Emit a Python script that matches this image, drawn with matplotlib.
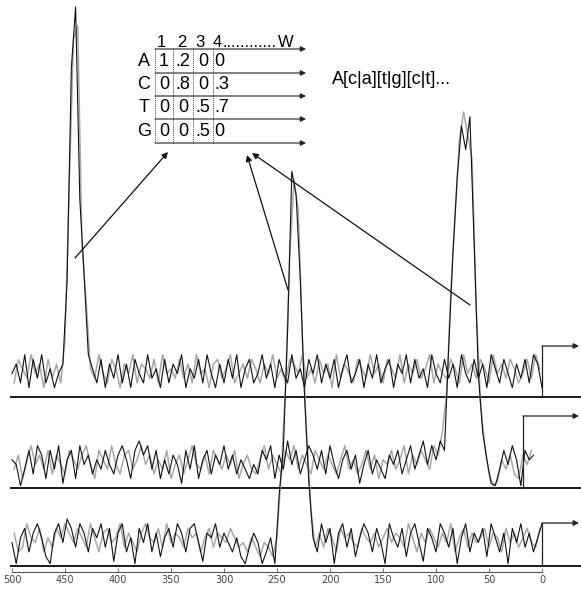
import numpy as np
import matplotlib
matplotlib.use('Agg')
import matplotlib.pyplot as plt

# ---------------- data ----------------
positions = np.arange(500, -1, -4)     # black traces, tracks 1 and 3
positions2 = np.arange(500, 7, -4)     # black trace, track 2
positions_b = np.arange(498, 1, -4)    # grey traces, tracks 1 and 3
positions2_b = np.arange(498, 7, -4)   # grey trace, track 2

track1 = [5, 7, 3, 9, 2, 8, 4, 9, 3, 6, 2, 5,
          7, 25, 70, 83, 42, 26, 9,
          6, 3, 8, 2, 7, 4, 9, 3, 7, 2,
          8, 5, 3, 9, 4, 6, 2, 8, 3, 7,
          5, 9, 2, 6, 4, 8, 3, 9, 5, 2,
          7, 3, 8, 4, 9, 2, 6, 8, 3, 5,
          9, 4, 7, 2, 8, 5, 3, 9, 4, 6,
          2, 8, 5, 9, 3, 7, 4, 8, 2, 6,
          9, 3, 5, 8, 2, 7, 4, 9, 3, 6,
          8, 2, 7, 5, 9, 3, 8, 4, 6, 2,
          9, 5, 3, 8, 4, 7, 2, 9, 5, 3,
          8, 4, 7, 2, 9, 6, 3, 8, 5, 2,
          7, 4, 8, 3, 9, 7, 2]
track1_b = [3, 8, 6, 4, 9, 5, 7, 2, 8, 4, 7, 3,
            12, 45, 76, 79, 33, 20, 6,
            4, 9, 5, 3, 8, 6, 2, 7, 5, 9,
            3, 7, 6, 4, 8, 3, 9, 5, 6, 4,
            8, 4, 7, 3, 9, 5, 6, 2, 7, 8,
            4, 6, 9, 3, 5, 7, 4, 8, 6, 3,
            7, 5, 9, 4, 6, 3, 8, 7, 5, 9,
            4, 6, 3, 8, 5, 7, 2, 9, 4, 7,
            5, 3, 8, 6, 4, 9, 5, 7, 3, 8,
            6, 4, 9, 3, 7, 5, 8, 4, 6, 9,
            3, 7, 5, 4, 8, 6, 3, 9, 5, 7,
            4, 8, 6, 3, 9, 5, 7, 4, 8, 6,
            3, 5, 8, 4, 9, 6]

track2 = [6, 5, 0.5, 4, 8, 3, 9, 7, 2, 8,
          4, 9, 1, 6, 8, 2, 9, 5, 7, 3,
          6, 4, 8, 5, 3, 7, 9, 6, 2, 8,
          10, 7, 9, 4, 8, 2, 6, 3, 7, 5,
          1, 8, 4, 9, 2, 6, 8, 3, 7, 5,
          9, 4, 7, 3, 6, 4, 2, 5, 3, 8,
          6, 9, 2, 7, 4, 10, 5, 8, 3, 6,
          9, 7, 4, 8, 3, 9, 5, 2, 6, 8,
          4, 7, 1, 5, 8, 3, 6, 4, 2, 7,
          5, 8, 3, 6, 9, 4, 7, 10,
          5, 9, 6, 10, 8, 30, 50, 66, 77, 72, 79, 52, 24, 12, 6, 1, 0.5,
          4, 8, 5, 9, 6, 0.5, 8, 6, 7]
track2_b = [4, 7, 2, 6, 9, 5, 7, 4, 8, 3,
            7, 5, 3, 8, 6, 4, 7, 9, 5, 2,
            8, 6, 4, 9, 5, 3, 7, 8, 4, 6,
            9, 5, 7, 3, 6, 4, 8, 2, 5, 7,
            3, 6, 9, 5, 4, 7, 3, 8, 6, 4,
            7, 5, 8, 2, 5, 7, 4, 3, 6, 9,
            4, 7, 5, 3, 8, 6, 9, 4, 7, 5,
            3, 8, 6, 4, 7, 5, 3, 6, 9, 4,
            6, 3, 5, 8, 4, 7, 2, 6, 5, 8,
            4, 6, 9, 3, 7, 5, 8, 6, 4, 9,
            7, 12,
            20, 42, 58, 74, 80, 75, 70, 38, 18, 9, 3, 0.5, 1.5,
            6, 4, 7, 3, 2, 7, 5, 8]

track3 = [5, 0.5, 6, 8, 3, 7, 9, 6, 2, 0.5,
          7, 9, 5, 10, 8, 4, 9, 7, 3, 8,
          6, 9, 4, 8, 1, 7, 9, 3, 6, 0.5,
          8, 5, 9, 3, 7, 2, 6, 8, 4, 9,
          7, 3, 8, 9, 5, 1, 7, 6, 9, 4,
          7, 5, 3, 6, 2, 0.5, 4, 7, 5, 0.5,
          3, 6, 0.5, 15, 25, 50, 84, 79, 61, 36, 18, 6, 3,
          9, 5, 8, 0.5, 7, 9, 4, 8, 2, 6,
          9, 7, 3, 8, 5, 0.5, 9, 6, 4, 8,
          2, 7, 9, 5, 1, 8, 6, 3, 9, 7,
          4, 8, 0.5, 6, 9, 3, 7, 5, 8, 2,
          9, 6, 3, 7, 0.5, 8, 5, 9, 4, 7,
          3, 6, 9]
track3_b = [7, 3, 4, 9, 6, 5, 8, 3, 6, 4,
            8, 6, 9, 7, 5, 8, 6, 4, 9, 6,
            3, 7, 8, 5, 6, 9, 4, 7, 5, 3,
            7, 9, 6, 5, 8, 4, 9, 5, 7, 6,
            4, 8, 6, 7, 3, 6, 8, 4, 7, 6,
            5, 8, 6, 4, 5, 3, 6, 4, 2, 5,
            4, 2,
            6, 20, 38, 66, 82, 76, 48, 28, 12, 4,
            7, 4, 8, 6, 3, 8, 6, 7, 5, 4,
            8, 6, 5, 7, 4, 6, 8, 5, 7, 6,
            4, 9, 6, 3, 7, 5, 8, 6, 4, 7,
            5, 9, 3, 6, 8, 4, 7, 5, 6, 8,
            4, 7, 6, 3, 8, 5, 7, 4, 6, 8,
            5, 4, 8]

tick_values = [500, 450, 400, 350, 300, 250, 200, 150, 100, 50, 0]
start_positions = [0, 18, 0]          # where the right-hand step arrows start

letters = ['A', 'C', 'T', 'G']
pwm = [[1, .2, 0, 0],
       [0, .8, 0, .3],
       [0, 0, .5, .7],
       [0, 0, .5, 0]]
col_labels = ['1', '2', '3', '4']
consensus = 'A[c|a][t|g][c|t]...'

# ---------------- layout ----------------
W, H = 581, 591
bases = [397, 488, 566]
step_tops = [346, 416, 523]
gain = 4.7

fig = plt.figure(figsize=(W / 100, H / 100), dpi=100)
axis_y = 572
ax = fig.add_axes([0, (H - axis_y) / H, 1, axis_y / H])
ax.set_xlim((542 - 0) / 1.06, (542 - W) / 1.06)
ax.set_ylim(axis_y, 0)

for s in ['top', 'left', 'right']:
    ax.spines[s].set_visible(False)
ax.spines['bottom'].set_bounds(0, 500)
ax.spines['bottom'].set_linestyle((0, (1, 1)))
ax.spines['bottom'].set_color('#555555')
ax.spines['bottom'].set_linewidth(0.8)
ax.set_yticks([])
ax.set_xticks(tick_values)
ax.set_xticklabels([str(v) for v in tick_values])
ax.tick_params(axis='x', direction='in', length=3, width=0.6, color='#555555',
               labelsize=7, labelcolor='#444444', pad=2)

# baselines
ax.hlines(bases, (542 - 10) / 1.06, (542 - W) / 1.06, color='#1a1a1a', lw=1.4)

traces = [(positions_b, track1_b, bases[0], '#a8a8a8', 1.1),
          (positions2_b, track2_b, bases[1], '#a8a8a8', 1.1),
          (positions_b, track3_b, bases[2], '#a8a8a8', 1.1),
          (positions, track1, bases[0], '#111111', 0.8),
          (positions2, track2, bases[1], '#111111', 0.8),
          (positions, track3, bases[2], '#111111', 0.8)]
for pos, tr, b, col, lw in traces:
    y = b - gain * np.array(tr, dtype=float)
    ax.plot(pos, y, color=col, lw=lw)

# right-hand step arrows
for sx, b, t in zip(start_positions, bases, step_tops):
    ax.plot([sx, sx], [b, t], color='#222222', lw=0.9)
    ax.annotate('', xy=((542 - 579) / 1.06, t), xytext=(sx, t),
                arrowprops=dict(arrowstyle='-|>', lw=0.9, color='#222222',
                                mutation_scale=8, shrinkA=0, shrinkB=0))

# ---------------- annotation overlay ----------------
ax2 = fig.add_axes([0, 0, 1, 1])
ax2.set_xlim(0, W)
ax2.set_ylim(H, 0)
ax2.axis('off')
ax2.patch.set_alpha(0)

font = 'Liberation Sans'
row_lines = [49, 73, 96, 119, 143]
col_lines = [155, 173, 193, 213]
col_centers = [164, 183, 203, 220]

for y in row_lines:
    ax2.annotate('', xy=(306, y), xytext=(155, y),
                 arrowprops=dict(arrowstyle='-|>', lw=0.8, color='#222222',
                                 mutation_scale=8, shrinkA=0, shrinkB=0))
ax2.vlines(col_lines, row_lines[0], row_lines[-1], linestyles=(0, (1, 1)),
           lw=0.7, color='#444444')

for lab, x in zip(col_labels, [161, 182, 200, 217]):
    ax2.text(x, 47, lab, fontsize=12, family=font, ha='center', va='baseline')
ax2.text(222, 47, '.' * 12, fontsize=12, family=font, ha='left', va='baseline')
ax2.text(286, 47, 'W', fontsize=12, family=font, ha='center', va='baseline')

def fmt(v):
    if v == 0:
        return '0'
    if v == 1:
        return '1'
    return ('%.1f' % v).lstrip('0')

for r, (lab, row) in enumerate(zip(letters, pwm)):
    yc = (row_lines[r] + row_lines[r + 1]) / 2
    ax2.text(144, yc, lab, fontsize=13, family=font, ha='center', va='center')
    for c, v in enumerate(row):
        if c < 3:
            ax2.text(col_centers[c], yc, fmt(v), fontsize=13, family=font,
                     ha='center', va='center')
        else:
            ax2.text(214, yc, fmt(v), fontsize=13, family=font,
                     ha='left', va='center')

ax2.text(332, 80, consensus, fontsize=13, family=font, ha='left', va='center')

# arrows from peaks to matrix
for (x0, y0), (x1, y1) in [((75, 258), (168, 152)),
                           ((288, 290), (247, 155)),
                           ((470, 305), (252, 153))]:
    ax2.annotate('', xy=(x1, y1), xytext=(x0, y0),
                 arrowprops=dict(arrowstyle='-|>', lw=0.9, color='#111111',
                                 mutation_scale=9, shrinkA=0, shrinkB=0))

fig.savefig('out.png', dpi=100)
